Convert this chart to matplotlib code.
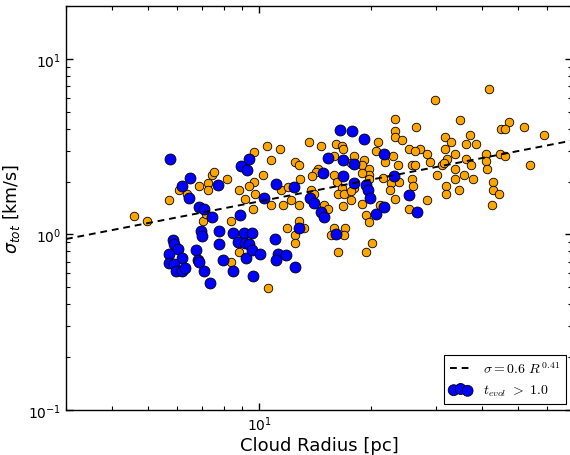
import matplotlib
matplotlib.use("Agg")
import matplotlib.pyplot as plt
import numpy as np

# Cloud radius [pc] and velocity dispersion [km/s] for the full sample
radius_all = [
    4.59, 4.98, 5.69, 6.08, 6.38, 6.88, 7.28, 7.28, 7.44, 7.56, 8.19, 8.79,
    9.69, 9.69, 9.40, 9.16, 9.72, 9.58, 8.38, 7.06, 7.17, 8.79, 8.38, 10.22,
    23.32, 23.32, 23.32, 20.89, 20.68, 21.87, 23.03, 23.76, 13.59, 14.69, 16.12,
    16.70, 16.82, 10.50, 11.40, 10.78, 12.48, 12.77, 15.95, 18.06, 19.22, 18.91,
    19.83, 19.83, 17.70, 14.38, 14.23, 13.85, 15.88, 16.22, 16.74, 18.95, 19.83,
    18.06, 11.45, 11.92, 12.91, 13.79, 14.02, 21.55, 22.74, 22.60, 23.24, 11.57,
    12.20, 12.83, 16.29, 16.90, 17.70, 17.70, 16.80, 18.95, 21.24, 10.78, 14.99,
    15.30, 19.43, 19.83, 11.88, 12.77, 13.23, 12.48, 12.48, 15.88, 17.05, 15.62,
    16.98, 16.29, 20.12, 19.43, 10.58, 41.88, 29.86, 34.89, 47.15, 26.53, 24.31,
    45.05, 46.27, 52.08, 58.63, 37.21, 31.77, 32.98, 36.11, 38.56, 25.33, 27.20,
    26.42, 28.44, 31.83, 33.89, 32.09, 36.11, 41.03, 40.86, 44.85, 46.07, 29.00,
    25.87, 26.42, 31.19, 31.64, 33.83, 37.38, 41.28, 53.73, 30.16, 35.84, 33.83,
    37.75, 25.87, 42.76, 23.82, 26.09, 31.96, 42.76, 34.74, 28.44, 25.33, 31.96,
    44.57, 42.43,
]
sigma_all = [
    1.28, 1.20, 1.58, 1.78, 1.71, 1.88, 1.97, 1.78, 2.18, 2.28, 2.08, 1.78,
    2.96, 1.99, 1.88, 1.59, 1.69, 1.39, 1.19, 1.19, 1.30, 0.794, 0.696, 2.19,
    4.55, 3.86, 3.60, 3.36, 2.98, 2.58, 2.79, 2.48, 3.36, 3.18, 3.28,
    3.18, 3.06, 3.18, 3.07, 2.67, 2.58, 2.48, 2.79, 2.79, 2.67, 2.50,
    2.36, 2.19, 2.56, 2.36, 2.26, 2.16, 2.19, 1.99, 1.84, 2.24, 2.07,
    1.84, 1.78, 1.86, 2.08, 1.78, 1.69, 2.10, 1.97, 1.80, 1.59, 1.48,
    1.58, 1.48, 1.69, 1.69, 1.76, 1.58, 1.45, 1.49, 1.48, 1.48, 1.48,
    1.39, 1.29, 1.18, 1.09, 1.19, 1.09, 0.99, 0.889, 1.09, 1.09, 0.99,
    0.99, 0.794, 0.889, 0.794, 0.494, 6.75, 5.85, 4.46, 4.36, 4.07, 3.46,
    3.99, 3.99, 4.07, 3.67, 3.67, 3.57, 3.36, 3.28, 3.28, 3.08, 3.08,
    2.98, 2.89, 3.08, 2.89, 2.69, 2.69, 2.89, 2.61, 2.89, 2.79, 2.59,
    2.47, 2.47, 2.47, 2.56, 2.37, 2.47, 2.37, 2.47, 2.17, 2.17, 2.07,
    2.07, 2.07, 1.99, 1.99, 1.88, 1.88, 1.80, 1.80, 1.58, 1.39, 1.69,
    1.69, 1.48,
]

# Clouds older than one evolutionary time
radius_old = [
    5.74, 6.50, 6.18, 7.72, 6.44, 8.92, 9.36, 9.26, 6.88, 7.10, 7.44, 8.88,
    10.26, 6.97, 6.98, 7.79, 8.46, 9.10, 9.55, 7.79, 8.77, 9.13, 9.40, 5.84,
    5.89, 6.02, 5.68, 6.17, 5.70, 5.89, 5.95, 6.18, 6.31, 6.74, 6.83, 6.88,
    7.10, 7.37, 7.97, 8.50, 9.18, 9.55, 10.03, 9.58, 16.53, 17.81, 19.14,
    21.69, 15.30, 16.80, 18.06, 14.90, 16.80, 18.06, 19.43, 19.62, 19.96,
    23.17, 11.10, 12.43, 13.74, 14.08, 21.78, 14.71, 14.99, 16.12, 12.83,
    11.03, 11.20, 11.80, 11.10, 12.51, 20.68, 25.44, 26.63,
]
sigma_old = [
    2.70, 2.10, 1.88, 1.91, 1.62, 2.45, 2.70, 2.34, 1.44, 1.39, 1.26, 1.29,
    1.62, 1.045, 0.979, 1.045, 1.02, 1.02, 1.02, 0.883, 0.905, 0.897, 0.877, 0.930,
    0.877, 0.822, 0.777, 0.733, 0.687, 0.675, 0.623, 0.615, 0.643, 0.817, 0.716, 0.693,
    0.623, 0.527, 0.716, 0.623, 0.731, 0.815, 0.773, 0.578, 3.95, 3.86, 3.49,
    2.89, 2.73, 2.64, 2.52, 2.24, 2.14, 1.96, 1.92, 1.80, 1.62,
    2.15, 1.95, 1.86, 1.62, 1.51, 1.43, 1.35, 1.26, 1.01, 1.09,
    0.945, 0.770, 0.764, 0.716, 0.652, 1.30, 1.67, 1.35,
]

# Larson-type size-linewidth relation
fit_coeff = 0.6
fit_index = 0.41
x_range = [3.0, 70.0]
y_range = [0.1, 20.0]

fig = plt.figure(figsize=(5.7, 4.56), dpi=100)
ax = fig.add_axes([66 / 570, 45 / 456, 506 / 570, 404 / 456])

ax.scatter(radius_all, sigma_all, s=38, c="#FFA500", edgecolors="black",
           linewidths=0.6, zorder=2)
old_pts = ax.scatter(radius_old, sigma_old, s=62, c="#0000FF",
                     edgecolors="black", linewidths=0.6, zorder=3)

r_fit = np.logspace(np.log10(x_range[0]), np.log10(x_range[1]), 200)
(fit_line,) = ax.plot(r_fit, fit_coeff * r_fit ** fit_index, color="black",
                      ls=(0, (3.5, 2.5)), lw=1.4, zorder=4)

ax.set_xscale("log")
ax.set_yscale("log")
ax.set_xlim(x_range)
ax.set_ylim(y_range)

ax.tick_params(which="both", direction="in", top=True, right=True,
               labelsize=10)
ax.tick_params(which="major", length=5, width=1)
ax.tick_params(which="minor", length=3, width=0.8)
for sp in ax.spines.values():
    sp.set_linewidth(1.0)

ax.set_xlabel("Cloud Radius [pc]", fontsize=13, labelpad=2)
ax.set_ylabel(r"$\sigma_{tot}$ [km/s]", fontsize=12.5, labelpad=4)

leg = ax.legend([fit_line, old_pts],
                [r"$\sigma=0.6\ R^{\,0.41}$", r"$t_{evol}\ >\ 1.0$"],
                loc="lower right", fontsize=10, frameon=True, fancybox=False,
                edgecolor="black", framealpha=1, handlelength=1.6,
                scatterpoints=3, borderaxespad=0.45)
leg.get_frame().set_linewidth(0.8)
for t in leg.get_texts():
    t.set_math_fontfamily("cm")

fig.savefig("out.png", dpi=100)
